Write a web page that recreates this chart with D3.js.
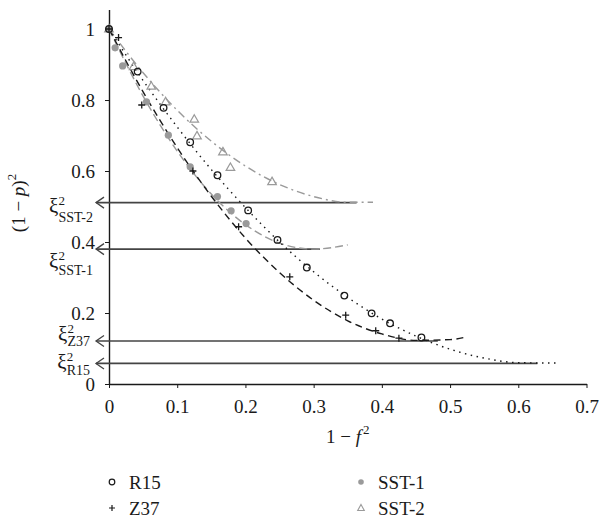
<!DOCTYPE html>
<html>
<head>
<meta charset="utf-8">
<script src="https://cdnjs.cloudflare.com/ajax/libs/d3/7.8.5/d3.min.js"></script>
<style>
  body { margin: 0; background: #fff; }
</style>
</head>
<body>
<div id="chart"></div>
<script>
// observed points (x = 1 - f^2, y = (1 - p)^2)
var r15X = [0, 0.042, 0.080, 0.119, 0.159, 0.204, 0.247, 0.290, 0.345, 0.385, 0.412, 0.458];
var r15Y = [1.0, 0.880, 0.778, 0.681, 0.588, 0.489, 0.406, 0.328, 0.249, 0.199, 0.171, 0.131];
var z37X = [0, 0.014, 0.048, 0.123, 0.190, 0.265, 0.347, 0.391, 0.425];
var z37Y = [1.0, 0.976, 0.786, 0.600, 0.443, 0.302, 0.194, 0.150, 0.129];
var sst1X = [0, 0.009, 0.020, 0.055, 0.087, 0.119, 0.159, 0.179, 0.201];
var sst1Y = [1.0, 0.947, 0.896, 0.795, 0.701, 0.612, 0.528, 0.488, 0.452];
var sst2X = [0, 0.036, 0.062, 0.083, 0.125, 0.129, 0.167, 0.178, 0.239];
var sst2Y = [1.0, 0.894, 0.839, 0.795, 0.746, 0.699, 0.654, 0.610, 0.570];

// fitted curves
var r15FitX = [0, 0.05, 0.1, 0.15, 0.2, 0.25, 0.3, 0.35, 0.4, 0.45, 0.5, 0.55, 0.6, 0.655];
var r15FitY = [1.0, 0.855, 0.724, 0.604, 0.497, 0.400, 0.316, 0.244, 0.183, 0.135, 0.098, 0.073, 0.060, 0.059];
var z37FitX = [0, 0.05, 0.1, 0.15, 0.2, 0.25, 0.3, 0.35, 0.4, 0.45, 0.5, 0.525];
var z37FitY = [1.0, 0.823, 0.666, 0.529, 0.411, 0.314, 0.236, 0.178, 0.141, 0.123, 0.125, 0.133];
var sst1FitX = [0, 0.05, 0.1, 0.15, 0.2, 0.25, 0.3, 0.35];
var sst1FitY = [1.0, 0.811, 0.656, 0.535, 0.449, 0.397, 0.380, 0.392];
var sst2FitX = [0, 0.05, 0.1, 0.15, 0.2, 0.25, 0.3, 0.35, 0.387];
var sst2FitY = [1.0, 0.877, 0.771, 0.684, 0.614, 0.562, 0.528, 0.512, 0.512];

// xi^2 levels
var xiNames = ["SST-2", "SST-1", "Z37", "R15"];
var xiValues = [0.511, 0.380, 0.121, 0.058];
var xiEnds = [0.363, 0.309, 0.482, 0.628];

var xTicks = [0, 0.1, 0.2, 0.3, 0.4, 0.5, 0.6, 0.7];
var yTicks = [0, 0.2, 0.4, 0.6, 0.8, 1];

var attrs = {
    svgWidth: 599,
    svgHeight: 518,
    font: '"Liberation Serif", "DejaVu Serif", serif',
    fontSize: 19,
    black: '#1a1a1a',
    gray: '#9a9a9a',
    refLine: '#444'
};

var svg = d3.select('#chart').append('svg')
    .attr('width', attrs.svgWidth)
    .attr('height', attrs.svgHeight)
    .attr('font-family', attrs.font)
    .attr('font-size', attrs.fontSize);

var x = d3.scaleLinear().domain([0, 0.7]).range([109, 586.5]);
var y = d3.scaleLinear().domain([0, 1.055]).range([384, 9.5]);

/*##################  AXES  ##################*/
var xAxis = svg.append('g')
    .attr('transform', 'translate(0,' + y(0) + ')')
    .call(d3.axisBottom(x).tickValues(xTicks).tickSize(4).tickSizeOuter(0).tickPadding(12)
        .tickFormat(function (d) { return d === 0 ? '0' : d3.format('.1f')(d); }));

var yAxis = svg.append('g')
    .attr('transform', 'translate(' + x(0) + ',0)')
    .call(d3.axisLeft(y).tickValues(yTicks).tickSize(4).tickSizeOuter(0).tickPadding(10)
        .tickFormat(function (d) { return (d === 0 || d === 1) ? String(d) : d3.format('.1f')(d); }));

[xAxis, yAxis].forEach(function (a) {
    a.attr('font-family', attrs.font).attr('font-size', attrs.fontSize);
    a.select('.domain').attr('stroke', attrs.black).attr('stroke-width', 1.4);
    a.selectAll('.tick line').attr('stroke', attrs.black).attr('stroke-width', 1);
    a.selectAll('.tick text').attr('fill', attrs.black);
});

// axis titles
var xTitle = svg.append('text')
    .attr('x', (x(0) + x(0.7)) / 2)
    .attr('y', 443)
    .attr('text-anchor', 'middle')
    .attr('fill', attrs.black);
xTitle.append('tspan').text('1 \u2212 ');
xTitle.append('tspan').attr('font-style', 'italic').text('f');
xTitle.append('tspan').attr('font-size', 13).attr('dx', 2).attr('dy', -9).text('2');

var yTitle = svg.append('text')
    .attr('transform', 'translate(25,203) rotate(-90)')
    .attr('text-anchor', 'middle')
    .attr('fill', attrs.black);
yTitle.append('tspan').text('(1 \u2212 ');
yTitle.append('tspan').attr('font-style', 'italic').text('p');
yTitle.append('tspan').text(')');
yTitle.append('tspan').attr('font-size', 13).attr('dy', -9).text('2');

/*##################  REFERENCE LINES  ##################*/
var xiBase = [213, 268, 341, 369];
var xiSubBase = [222, 275, 346, 375];
xiValues.forEach(function (v, i) {
    var yy = y(v), x0 = x(0) - 13;
    svg.append('line')
        .attr('x1', x0).attr('x2', x(xiEnds[i]))
        .attr('y1', yy).attr('y2', yy)
        .attr('stroke', attrs.refLine).attr('stroke-width', 1.6);
    svg.append('path')
        .attr('d', 'M' + (x0 + 8) + ',' + (yy - 5.5) + 'L' + x0 + ',' + yy + 'L' + (x0 + 8) + ',' + (yy + 5.5))
        .attr('fill', 'none').attr('stroke', attrs.refLine).attr('stroke-width', 1.3);

    // label xi^2_name, right aligned
    var g = svg.append('g');
    var sub = g.append('text').attr('font-size', 14).attr('y', xiSubBase[i]).attr('fill', attrs.black).text(xiNames[i]);
    var xi = g.append('text').attr('font-size', 21).attr('y', xiBase[i]).attr('fill', attrs.black).text('\u03be');
    var sup = g.append('text').attr('font-size', 13).attr('y', xiBase[i] - 8).attr('fill', attrs.black).text('2');
    var right = xiNames[i].length > 3 ? 93 : 90;
    var subW = sub.node().getComputedTextLength();
    var xiW = xi.node().getComputedTextLength();
    sub.attr('x', right - subW);
    sup.attr('x', right - subW);
    xi.attr('x', right - subW - xiW);
});

/*##################  FITTED CURVES  ##################*/
var line = d3.line()
    .x(function (d) { return x(d[0]); })
    .y(function (d) { return y(d[1]); })
    .curve(d3.curveMonotoneX);

var fits = [
    { xs: sst2FitX, ys: sst2FitY, color: attrs.gray, dash: '8,4,2,4' },
    { xs: sst1FitX, ys: sst1FitY, color: attrs.gray, dash: '8,4' },
    { xs: z37FitX, ys: z37FitY, color: attrs.black, dash: '7,4.5' },
    { xs: r15FitX, ys: r15FitY, color: attrs.black, dash: '1.5,4.5' }
];
fits.forEach(function (f) {
    svg.append('path')
        .datum(f.xs.map(function (v, i) { return [v, f.ys[i]]; }))
        .attr('d', line)
        .attr('fill', 'none')
        .attr('stroke', f.color)
        .attr('stroke-width', 1.4)
        .attr('stroke-dasharray', f.dash);
});

/*##################  MARKERS  ##################*/
function drawMarker(g, type, cx, cy) {
    if (type === 'circle') {
        g.append('circle').attr('cx', cx).attr('cy', cy).attr('r', 3.3)
            .attr('fill', 'none').attr('stroke', attrs.black).attr('stroke-width', 1.3);
    } else if (type === 'plus') {
        g.append('path').attr('d', 'M' + (cx - 3.5) + ',' + cy + 'h7M' + cx + ',' + (cy - 3.5) + 'v7')
            .attr('stroke', attrs.black).attr('stroke-width', 1.3);
    } else if (type === 'dot') {
        g.append('circle').attr('cx', cx).attr('cy', cy).attr('r', 3.6).attr('fill', attrs.gray);
    } else {
        g.append('path').attr('d', 'M' + cx + ',' + (cy - 4.5) + 'L' + (cx + 4.3) + ',' + (cy + 3) + 'L' + (cx - 4.3) + ',' + (cy + 3) + 'Z')
            .attr('fill', 'none').attr('stroke', attrs.gray).attr('stroke-width', 1.2);
    }
}

var series = [
    { name: 'SST-2', xs: sst2X, ys: sst2Y, type: 'tri' },
    { name: 'SST-1', xs: sst1X, ys: sst1Y, type: 'dot' },
    { name: 'Z37', xs: z37X, ys: z37Y, type: 'plus' },
    { name: 'R15', xs: r15X, ys: r15Y, type: 'circle' }
];
var marks = svg.append('g');
series.forEach(function (s) {
    s.xs.forEach(function (v, i) { drawMarker(marks, s.type, x(v), y(s.ys[i])); });
});

/*##################  LEGEND  ##################*/
var legendPos = { 'R15': [112, 482], 'Z37': [112, 508], 'SST-1': [361, 482], 'SST-2': [361, 508] };
series.forEach(function (s) {
    var p = legendPos[s.name];
    var lg = svg.append('g');
    if (s.type === 'dot') {
        lg.append('circle').attr('cx', p[0]).attr('cy', p[1]).attr('r', 2.8).attr('fill', attrs.gray);
    } else if (s.type === 'tri') {
        lg.append('path').attr('d', 'M' + p[0] + ',' + (p[1] - 3.5) + 'L' + (p[0] + 3.3) + ',' + (p[1] + 2.5) + 'L' + (p[0] - 3.3) + ',' + (p[1] + 2.5) + 'Z')
            .attr('fill', 'none').attr('stroke', attrs.gray).attr('stroke-width', 1.1);
    } else if (s.type === 'circle') {
        lg.append('circle').attr('cx', p[0]).attr('cy', p[1]).attr('r', 2.8)
            .attr('fill', 'none').attr('stroke', attrs.black).attr('stroke-width', 1.2);
    } else {
        lg.append('path').attr('d', 'M' + (p[0] - 3) + ',' + p[1] + 'h6M' + p[0] + ',' + (p[1] - 3) + 'v6')
            .attr('stroke', attrs.black).attr('stroke-width', 1.2);
    }
    lg.append('text').attr('x', p[0] + 17).attr('y', p[1] + 7).attr('fill', attrs.black).text(s.name);
});
</script>
</body>
</html>
